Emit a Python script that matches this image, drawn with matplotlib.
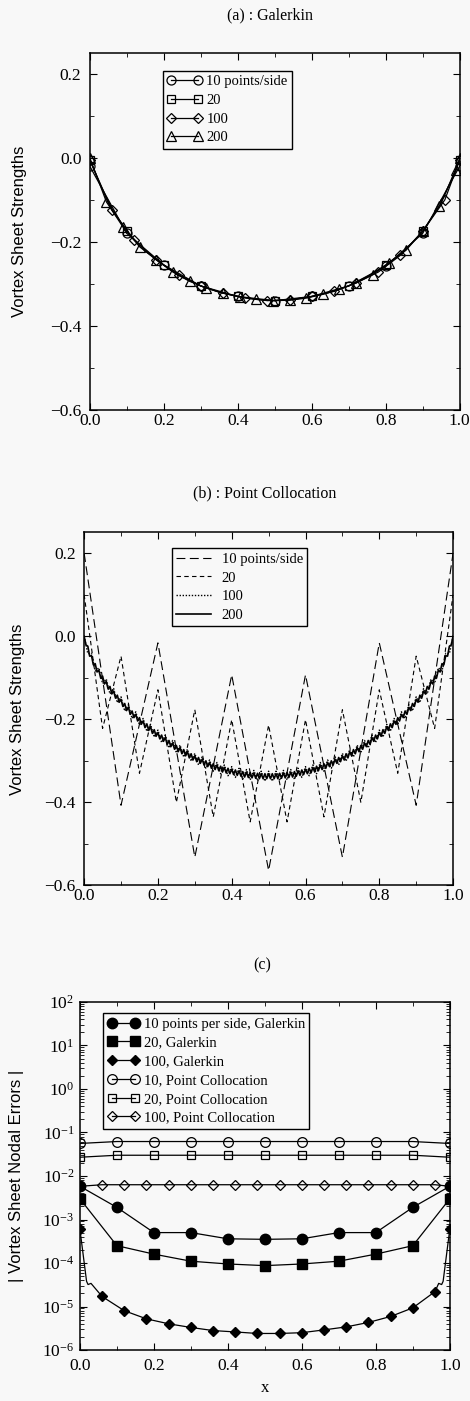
import numpy as np
import matplotlib.pyplot as plt
from matplotlib.ticker import MultipleLocator, LogLocator, NullFormatter

plt.rcParams['font.family'] = ['Liberation Serif', 'DejaVu Serif']
plt.rcParams['mathtext.fontset'] = 'stix'

# ---- (a) Galerkin ----
x10 = np.linspace(0, 1, 11)
gal10 = [-0.02, -0.18, -0.255, -0.305, -0.33, -0.34, -0.33, -0.305, -0.258, -0.18, -0.02]
x20 = np.linspace(0, 1, 21)
gal20 = [-0.005, -0.108, -0.175, -0.222, -0.255, -0.283, -0.305, -0.32, -0.33, -0.337, -0.34,
         -0.337, -0.33, -0.32, -0.305, -0.283, -0.255, -0.222, -0.175, -0.108, -0.005]
x100m = np.append(np.arange(17) * 0.06, 1.0)
gal100 = [-0.005, -0.125, -0.195, -0.243, -0.28, -0.305, -0.322, -0.333, -0.34,
          -0.338, -0.33, -0.318, -0.298, -0.272, -0.232, -0.175, -0.1, -0.005]
x200m = np.append(np.arange(23) * 0.045, 1.0)
gal200 = [0.0, -0.105, -0.165, -0.212, -0.243, -0.272, -0.294, -0.31, -0.322, -0.331, -0.337, -0.34,
          -0.339, -0.334, -0.325, -0.313, -0.298, -0.278, -0.25, -0.22, -0.175, -0.115, -0.03, 0.0]

# ---- (b) Point collocation ----
pc10 = [0.2, -0.407, -0.016, -0.532, -0.093, -0.564, -0.093, -0.532, -0.016, -0.407, 0.2]
pc20 = [0.1, -0.222, -0.048, -0.33, -0.129, -0.40, -0.177, -0.435, -0.201, -0.447, -0.214,
        -0.447, -0.201, -0.435, -0.177, -0.40, -0.129, -0.33, -0.048, -0.222, 0.1]
x100 = np.linspace(0, 1, 101)
pc100 = [0.000, -0.042, -0.041, -0.084, -0.076, -0.114, -0.103, -0.139, -0.126, -0.160,
         -0.146, -0.180, -0.165, -0.198, -0.182, -0.214, -0.198, -0.229, -0.212, -0.243,
         -0.226, -0.256, -0.238, -0.269, -0.251, -0.281, -0.262, -0.291, -0.272, -0.301,
         -0.282, -0.310, -0.290, -0.318, -0.298, -0.325, -0.304, -0.331, -0.310, -0.336,
         -0.314, -0.340, -0.318, -0.344, -0.321, -0.346, -0.323, -0.348, -0.325, -0.349,
         -0.325, -0.349, -0.325, -0.348, -0.323, -0.346, -0.321, -0.344, -0.318, -0.340,
         -0.314, -0.336, -0.310, -0.331, -0.304, -0.325, -0.298, -0.318, -0.290, -0.310,
         -0.282, -0.301, -0.272, -0.291, -0.262, -0.281, -0.251, -0.269, -0.238, -0.256,
         -0.226, -0.243, -0.212, -0.229, -0.198, -0.214, -0.182, -0.198, -0.165, -0.180,
         -0.146, -0.160, -0.126, -0.139, -0.103, -0.114, -0.076, -0.084, -0.041, -0.042,
         0.000]
x200 = np.linspace(0, 1, 201)
pc200 = [0.000, -0.021, -0.024, -0.048, -0.047, -0.069, -0.066, -0.086, -0.082, -0.101,
         -0.096, -0.115, -0.109, -0.127, -0.121, -0.139, -0.132, -0.149, -0.142, -0.159,
         -0.152, -0.169, -0.162, -0.179, -0.171, -0.188, -0.180, -0.196, -0.188, -0.204,
         -0.196, -0.212, -0.204, -0.220, -0.211, -0.227, -0.218, -0.234, -0.225, -0.241,
         -0.232, -0.247, -0.238, -0.253, -0.244, -0.260, -0.251, -0.266, -0.257, -0.272,
         -0.263, -0.278, -0.268, -0.283, -0.273, -0.288, -0.278, -0.293, -0.283, -0.298,
         -0.288, -0.302, -0.292, -0.306, -0.296, -0.310, -0.300, -0.314, -0.304, -0.318,
         -0.307, -0.321, -0.310, -0.324, -0.313, -0.327, -0.316, -0.329, -0.318, -0.331,
         -0.320, -0.333, -0.322, -0.335, -0.324, -0.337, -0.326, -0.339, -0.327, -0.340,
         -0.328, -0.341, -0.329, -0.342, -0.330, -0.343, -0.331, -0.343, -0.331, -0.343,
         -0.331,
         -0.343, -0.331, -0.343, -0.331, -0.343, -0.330, -0.342, -0.329, -0.341, -0.328,
         -0.340, -0.327, -0.339, -0.326, -0.337, -0.324, -0.335, -0.322, -0.333, -0.320,
         -0.331, -0.318, -0.329, -0.316, -0.327, -0.313, -0.324, -0.310, -0.321, -0.307,
         -0.318, -0.304, -0.314, -0.300, -0.310, -0.296, -0.306, -0.292, -0.302, -0.288,
         -0.298, -0.283, -0.293, -0.278, -0.288, -0.273, -0.283, -0.268, -0.278, -0.263,
         -0.272, -0.257, -0.266, -0.251, -0.260, -0.244, -0.253, -0.238, -0.247, -0.232,
         -0.241, -0.225, -0.234, -0.218, -0.227, -0.211, -0.220, -0.204, -0.212, -0.196,
         -0.204, -0.188, -0.196, -0.180, -0.188, -0.171, -0.179, -0.162, -0.169, -0.152,
         -0.159, -0.142, -0.149, -0.132, -0.139, -0.121, -0.127, -0.109, -0.115, -0.096,
         -0.101, -0.082, -0.086, -0.066, -0.069, -0.047, -0.048, -0.024, -0.021, 0.000]

# ---- (c) nodal errors ----
err_g10 = [5.8e-3, 1.9e-3, 5.0e-4, 5.0e-4, 3.6e-4, 3.5e-4, 3.6e-4, 5.0e-4, 5.0e-4, 1.9e-3, 5.8e-3]
err_g20 = [3.0e-3, 2.5e-4, 1.6e-4, 1.1e-4, 9.5e-5, 8.7e-5, 9.5e-5, 1.1e-4, 1.6e-4, 2.5e-4, 3.0e-3]
x_g100 = [0.0, 0.018, 0.022, 0.03, 0.06, 0.12, 0.18, 0.24, 0.30, 0.36, 0.42, 0.48, 0.54, 0.60,
          0.66, 0.72, 0.78, 0.84, 0.90, 0.96, 0.97, 0.978, 0.982, 1.0]
err_g100 = [6e-4, 3.8e-5, 3.2e-5, 3.4e-5, 1.7e-5, 8.0e-6, 5.2e-6, 4.0e-6, 3.3e-6, 2.8e-6, 2.6e-6,
            2.4e-6, 2.4e-6, 2.5e-6, 2.9e-6, 3.4e-6, 4.3e-6, 5.9e-6, 9.3e-6, 2.2e-5,
            3.4e-5, 3.2e-5, 3.8e-5, 6e-4]
g100_marks = [0] + list(range(4, 20)) + [23]
err_pc10 = [0.056, 0.062, 0.062, 0.062, 0.062, 0.062, 0.062, 0.062, 0.062, 0.062, 0.056]
err_pc20 = [0.027, 0.030, 0.030, 0.030, 0.030, 0.030, 0.030, 0.030, 0.030, 0.030, 0.027]
err_pc100 = [0.0058, 0.0063, 0.0063, 0.0063, 0.0063, 0.0063, 0.0063, 0.0063, 0.0063,
             0.0063, 0.0063, 0.0063, 0.0063, 0.0063, 0.0063, 0.0063, 0.0063, 0.0058]

bg = '#f8f8f8'
fig = plt.figure(figsize=(4.7, 14.01), dpi=100, facecolor=bg)


def style(ax):
    ax.set_facecolor(bg)
    ax.tick_params(which='both', direction='in', top=True, right=True, labelsize=12.5)
    ax.tick_params(which='major', length=5)
    ax.tick_params(which='minor', length=3)
    ax.tick_params(axis='y', pad=6)
    ax.tick_params(axis='x', pad=2)
    for s in ax.spines.values():
        s.set_linewidth(1.1)
    ax.set_xlim(0, 1)
    ax.xaxis.set_major_locator(MultipleLocator(0.2))
    ax.xaxis.set_minor_locator(MultipleLocator(0.1))
    ax.xaxis.set_major_formatter(plt.FuncFormatter(lambda v, p: f"{v:.1f}"))
    ax.xaxis.offsetText.set_visible(False)
    ax.yaxis.offsetText.set_visible(False)


def leg(ax, bbox, hl, fs=10):
    lg = ax.legend(loc='upper left', bbox_to_anchor=bbox, fontsize=fs, numpoints=2,
                   handlelength=hl, handletextpad=0.3, labelspacing=0.38, borderpad=0.3,
                   borderaxespad=0, fancybox=False, framealpha=1, facecolor=bg, edgecolor='black')
    lg.get_frame().set_linewidth(1.0)


# (a)
ax1 = fig.add_axes([0.191, 0.7074, 0.787, 0.255])
style(ax1)
k = dict(color='black', lw=0.9, mfc='none', mec='black', mew=0.9)
ax1.plot(x10, gal10, marker='o', ms=6.5, label='10 points/side', **k)
ax1.plot(x20, gal20, marker='s', ms=5.5, markevery=2, label='20', **k)
ax1.plot(x100m, gal100, marker='D', ms=5, label='100', **k)
ax1.plot(x200m, gal200, marker='^', ms=6.5, label='200', **k)
ax1.set_ylim(-0.6, 0.25)
ax1.yaxis.set_major_locator(MultipleLocator(0.2))
ax1.yaxis.set_minor_locator(MultipleLocator(0.1))
ax1.yaxis.set_major_formatter(plt.FuncFormatter(lambda v, p: f"{v:.1f}".replace('-', '\u2212')))
ax1.set_ylabel('Vortex Sheet Strengths', family='Liberation Sans', fontsize=12)
ax1.yaxis.set_label_coords(-0.17, 0.5)
leg(ax1, (0.197, 0.95), 2.4, fs=10.5)
fig.text(0.575, 0.989, '(a) : Galerkin', ha='center', va='center', fontsize=11.5)

# (b)
ax2 = fig.add_axes([0.179, 0.368, 0.785, 0.252])
style(ax2)
ax2.plot(x10, pc10, color='black', lw=0.8, dashes=(8, 4), label='10 points/side')
ax2.plot(x20, pc20, color='black', lw=0.8, dashes=(4, 3), label='20')
ax2.plot(x100, pc100, color='black', lw=1.0, dashes=(1, 1.2), label='100')
ax2.plot(x200, pc200, color='black', lw=1.2, label='200')
ax2.set_ylim(-0.6, 0.25)
ax2.yaxis.set_major_locator(MultipleLocator(0.2))
ax2.yaxis.set_minor_locator(MultipleLocator(0.1))
ax2.yaxis.set_major_formatter(plt.FuncFormatter(lambda v, p: f"{v:.1f}".replace('-', '\u2212')))
ax2.set_ylabel('Vortex Sheet Strengths', family='Liberation Sans', fontsize=12)
ax2.yaxis.set_label_coords(-0.16, 0.5)
lg = ax2.legend(loc='upper left', bbox_to_anchor=(0.238, 0.955), fontsize=10.5,
                handlelength=2.4, handletextpad=0.7, labelspacing=0.38, borderpad=0.3,
                borderaxespad=0, fancybox=False, framealpha=1, facecolor=bg, edgecolor='black')
lg.get_frame().set_linewidth(1.0)
fig.text(0.563, 0.648, '(b) : Point Collocation', ha='center', va='center', fontsize=11.5)

# (c)
ax3 = fig.add_axes([0.170, 0.0364, 0.787, 0.2484])
style(ax3)
ax3.tick_params(axis='x', pad=6)
ax3.tick_params(axis='y', pad=4)
ax3.set_yscale('log')
ax3.set_ylim(1e-6, 1e2)
ax3.yaxis.set_major_locator(LogLocator(base=10, numticks=20))
ax3.yaxis.set_minor_locator(LogLocator(base=10, subs=np.arange(2, 10), numticks=20))
ax3.yaxis.set_minor_formatter(NullFormatter())
kf = dict(color='black', lw=0.9, mec='black')
ax3.plot(x10, err_g10, marker='o', ms=7.5, mfc='black', label='10 points per side, Galerkin', **kf)
ax3.plot(x10, err_g20, marker='s', ms=6.5, mfc='black', label='20, Galerkin', **kf)
ax3.plot(x_g100, err_g100, marker='D', ms=5, mfc='black', markevery=g100_marks,
         label='100, Galerkin', **kf)
ax3.plot(x10, err_pc10, marker='o', ms=7, mfc='none', mew=0.9, label='10, Point Collocation', **kf)
ax3.plot(x10, err_pc20, marker='s', ms=6, mfc='none', mew=0.9, label='20, Point Collocation', **kf)
ax3.plot(x100m, err_pc100, marker='D', ms=5, mfc='none', mew=0.9, label='100, Point Collocation', **kf)
ax3.set_ylabel('| Vortex Sheet Nodal Errors |', family='Liberation Sans', fontsize=12)
ax3.yaxis.set_label_coords(-0.151, 0.5)
ax3.set_xlabel('x', fontsize=12, labelpad=4)
leg(ax3, (0.062, 0.968), 2.2, fs=10.5)
fig.text(0.557, 0.311, '(c)', ha='center', va='center', fontsize=11.5)

fig.savefig('out.png', dpi=100, facecolor=bg)
